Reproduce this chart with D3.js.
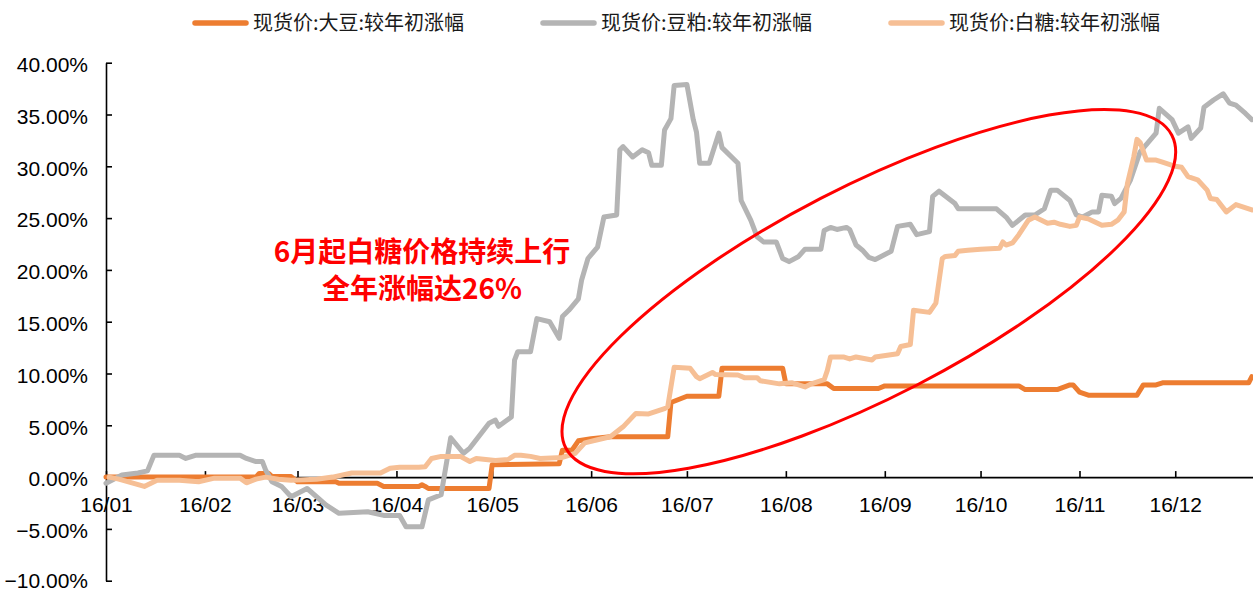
<!DOCTYPE html>
<html>
<head>
<meta charset="utf-8">
<script src="https://cdn.jsdelivr.net/npm/d3@7"></script>
<style>
  html, body { margin: 0; padding: 0; background: #fff; }
  svg { display: block; }
</style>
</head>
<body>
<svg id="chart" width="1253" height="591"></svg>
<script>
// ---- data (2016, % change since start of year) ----
const seriesNames = ["现货价:大豆:较年初涨幅", "现货价:豆粕:较年初涨幅", "现货价:白糖:较年初涨幅"];
const seriesColors = ["#ED7D31", "#B4B4B4", "#F6BF95"];

const soybean = [
  ["01/01", 0.0], ["02/17", 0.0], ["02/18", 0.35], ["02/21", 0.35], ["02/22", 0.05],
  ["02/28", 0.05], ["03/01", -0.45], ["03/13", -0.45], ["03/14", -0.6], ["03/26", -0.6],
  ["03/28", -0.9], ["04/08", -0.9], ["04/09", -0.75], ["04/10", -0.9], ["04/11", -1.1],
  ["04/30", -1.1], ["05/01", 1.2], ["05/22", 1.3], ["05/23", 2.6], ["05/26", 2.6],
  ["05/28", 3.5], ["06/01", 3.7], ["06/07", 3.9], ["06/25", 3.9], ["06/26", 7.2],
  ["07/01", 7.8], ["07/11", 7.8], ["07/12", 10.5], ["07/31", 10.5], ["08/01", 9.0],
  ["08/14", 9.0], ["08/16", 8.55], ["08/30", 8.55], ["09/01", 8.8], ["10/13", 8.8],
  ["10/15", 8.45], ["10/25", 8.45], ["10/29", 8.9], ["10/30", 8.9], ["11/01", 8.2],
  ["11/04", 7.9], ["11/19", 7.9], ["11/21", 8.9], ["11/25", 8.9], ["11/27", 9.1],
  ["12/24", 9.1], ["12/25", 9.7]
];

const soymeal = [
  ["01/01", -0.6], ["01/06", 0.2], ["01/11", 0.4], ["01/14", 0.6], ["01/16", 2.1],
  ["01/24", 2.1], ["01/26", 1.8], ["01/29", 2.1], ["02/12", 2.1], ["02/14", 1.8],
  ["02/17", 1.5], ["02/19", 1.5], ["02/20", 0.7], ["02/22", -0.45], ["02/25", -0.9],
  ["02/28", -1.9], ["03/04", -1.1], ["03/10", -2.7], ["03/14", -3.5], ["03/23", -3.35],
  ["03/28", -3.7], ["04/02", -3.7], ["04/04", -4.8], ["04/09", -4.8], ["04/11", -2.2],
  ["04/15", -1.7], ["04/18", 3.8], ["04/22", 2.3], ["04/24", 2.8], ["04/30", 5.2],
  ["05/02", 5.5], ["05/03", 4.9], ["05/07", 5.8], ["05/08", 11.3], ["05/09", 12.1],
  ["05/13", 12.1], ["05/15", 15.3], ["05/19", 15.0], ["05/22", 13.4], ["05/23", 15.5],
  ["05/25", 16.1], ["05/28", 17.2], ["05/29", 19.0], ["05/31", 21.1], ["06/03", 22.2],
  ["06/05", 25.1], ["06/09", 25.3], ["06/10", 31.6], ["06/11", 31.9], ["06/14", 30.9],
  ["06/17", 31.6], ["06/19", 31.3], ["06/20", 30.1], ["06/23", 30.1], ["06/24", 33.5],
  ["06/26", 34.6], ["06/27", 37.8], ["07/01", 37.9], ["07/03", 34.5], ["07/04", 33.3],
  ["07/05", 30.3], ["07/08", 30.3], ["07/11", 33.2], ["07/12", 31.8], ["07/17", 30.3],
  ["07/18", 26.7], ["07/21", 24.8], ["07/23", 23.2], ["07/25", 22.7], ["07/29", 22.7],
  ["07/31", 21.1], ["08/02", 20.8], ["08/05", 21.3], ["08/07", 22.0], ["08/12", 22.0],
  ["08/13", 23.8], ["08/15", 24.1], ["08/17", 23.9], ["08/20", 24.1], ["08/21", 23.9],
  ["08/23", 22.4], ["08/25", 21.9], ["08/27", 21.2], ["08/29", 21.0], ["09/03", 21.8],
  ["09/05", 24.2], ["09/09", 24.4], ["09/11", 23.4], ["09/15", 23.7], ["09/16", 27.1],
  ["09/18", 27.6], ["09/23", 26.4], ["09/24", 25.9], ["10/06", 25.9], ["10/09", 25.1],
  ["10/11", 24.3], ["10/15", 25.3], ["10/18", 25.3], ["10/21", 25.9], ["10/23", 27.7],
  ["10/25", 27.7], ["10/29", 26.7], ["10/31", 25.3], ["11/02", 25.1], ["11/05", 25.6],
  ["11/07", 25.6], ["11/08", 27.2], ["11/11", 27.1], ["11/12", 26.4], ["11/14", 26.9],
  ["11/17", 28.7], ["11/20", 31.4], ["11/25", 33.2], ["11/26", 35.6], ["11/30", 34.5],
  ["12/02", 33.2], ["12/05", 33.8], ["12/06", 32.7], ["12/09", 33.7], ["12/10", 35.7],
  ["12/13", 36.4], ["12/16", 37.0], ["12/18", 36.1], ["12/20", 35.9], ["12/23", 35.1],
  ["12/25", 34.5]
];

const sugar = [
  ["01/02", 0.0], ["01/05", -0.2], ["01/13", -0.9], ["01/17", -0.3], ["01/24", -0.3],
  ["01/30", -0.45], ["02/04", -0.1], ["02/12", -0.1], ["02/14", -0.55], ["02/17", -0.2],
  ["02/20", 0.0], ["02/24", -0.2], ["02/28", -0.3], ["03/07", -0.2], ["03/12", 0.0],
  ["03/18", 0.4], ["03/27", 0.4], ["03/30", 0.85], ["04/02", 0.95], ["04/08", 0.95],
  ["04/10", 1.0], ["04/12", 1.8], ["04/15", 2.0], ["04/21", 2.0], ["04/24", 1.5],
  ["04/26", 1.8], ["05/02", 1.6], ["05/06", 1.7], ["05/08", 2.1], ["05/10", 2.1],
  ["05/13", 2.0], ["05/16", 1.8], ["05/23", 1.9], ["05/27", 2.3], ["05/30", 3.3],
  ["06/03", 3.6], ["06/07", 3.9], ["06/11", 4.85], ["06/13", 5.5], ["06/15", 6.15],
  ["06/19", 6.1], ["06/24", 6.6], ["06/25", 6.8], ["06/27", 10.6], ["07/02", 10.5],
  ["07/04", 9.7], ["07/05", 9.5], ["07/09", 10.1], ["07/10", 9.9], ["07/17", 9.85],
  ["07/19", 9.6], ["07/23", 9.6], ["07/24", 9.3], ["07/30", 9.0], ["08/03", 9.1],
  ["08/05", 8.9], ["08/07", 8.7], ["08/09", 9.0], ["08/13", 9.4], ["08/14", 10.3],
  ["08/15", 11.6], ["08/19", 11.6], ["08/21", 11.4], ["08/23", 11.6], ["08/28", 11.3],
  ["08/29", 11.6], ["09/05", 11.9], ["09/06", 12.6], ["09/09", 12.8], ["09/10", 16.1],
  ["09/15", 15.9], ["09/17", 16.8], ["09/19", 21.1], ["09/20", 21.3], ["09/23", 21.4],
  ["09/24", 21.8], ["09/27", 21.9], ["10/01", 22.0], ["10/07", 22.1], ["10/08", 22.7],
  ["10/09", 22.4], ["10/11", 22.6], ["10/13", 23.4], ["10/16", 24.8], ["10/18", 25.1],
  ["10/22", 24.5], ["10/24", 24.6], ["10/26", 24.4], ["10/29", 24.2], ["10/31", 24.3],
  ["11/01", 25.1], ["11/04", 24.9], ["11/08", 24.3], ["11/11", 24.4], ["11/13", 24.8],
  ["11/15", 25.6], ["11/16", 28.3], ["11/18", 30.9], ["11/19", 32.6], ["11/20", 32.3],
  ["11/22", 30.6], ["11/25", 30.6], ["11/27", 30.4], ["12/01", 30.0], ["12/03", 29.9],
  ["12/05", 29.0], ["12/08", 28.7], ["12/11", 27.7], ["12/12", 26.9], ["12/14", 26.8],
  ["12/17", 25.6], ["12/20", 26.3], ["12/25", 25.8]
];

const yTicks = [-10, -5, 0, 5, 10, 15, 20, 25, 30, 35, 40];
const monthTicks = ["01/01", "02/01", "03/01", "04/01", "05/01", "06/01",
                    "07/01", "08/01", "09/01", "10/01", "11/01", "12/01"];
const noteLines = ["6月起白糖价格持续上行", "全年涨幅达26%"];

// ---- setup ----
const parseDay = s => d3.timeParse("%Y/%m/%d")("2016/" + s);
const fmtMonth = d3.timeFormat("%y/%m");
const fmtPct = d => d3.format(".2f")(d) + "%";

const svg = d3.select("#chart");
const latin = "'Liberation Sans', Arial, sans-serif";
const cjk = "'Noto Sans CJK SC', 'Microsoft YaHei', sans-serif";

const x = d3.scaleTime()
  .domain([parseDay("01/01"), parseDay("12/31")])
  .range([106, 1271]);
const y = d3.scaleLinear().domain([-10, 40]).range([580.7, 62.7]);

// ---- axes ----
const yAxis = d3.axisLeft(y)
  .tickValues(yTicks)
  .tickFormat(fmtPct)
  .tickSizeInner(-6)
  .tickSizeOuter(0)
  .tickPadding(18);

const yG = svg.append("g").attr("transform", "translate(106,0)").call(yAxis);
// lowest label sits a touch higher so it stays inside the frame
yG.selectAll("text").attr("dy", d => d === yTicks[0] ? "0.3em" : "0.42em");

const xAxis = d3.axisBottom(x)
  .tickValues(monthTicks.map(parseDay))
  .tickFormat(fmtMonth)
  .tickSizeInner(-6)
  .tickSizeOuter(0)
  .tickPadding(20);

const xG = svg.append("g").attr("transform", `translate(0,${y(0)})`).call(xAxis);

[yG, xG].forEach(g => {
  g.select(".domain").attr("stroke", "#000").attr("stroke-width", 1.6);
  g.selectAll(".tick line").attr("stroke", "#000").attr("stroke-width", 1.6);
  g.selectAll("text")
    .attr("fill", "#000")
    .style("font-family", latin)
    .style("font-size", "21px");
});

// ---- series lines ----
const line = d3.line()
  .x(d => x(parseDay(d[0])))
  .y(d => y(d[1]));

[soybean, soymeal, sugar].forEach((data, i) => {
  svg.append("path")
    .datum(data)
    .attr("fill", "none")
    .attr("stroke", seriesColors[i])
    .attr("stroke-width", 5)
    .attr("stroke-linejoin", "round")
    .attr("stroke-linecap", "round")
    .attr("d", line);
});

// ---- legend ----
const legend = svg.append("g").attr("transform", "translate(193,23)");
seriesNames.forEach((name, i) => {
  const g = legend.append("g").attr("transform", `translate(${i * 348},0)`);
  g.append("line")
    .attr("x1", 2).attr("x2", 53).attr("y1", 0).attr("y2", 0)
    .attr("stroke", seriesColors[i])
    .attr("stroke-width", 5.5)
    .attr("stroke-linecap", "round");
  g.append("text")
    .attr("x", 60).attr("y", 0).attr("dy", "0.36em")
    .attr("fill", "#1a1a1a")
    .style("font-family", cjk)
    .style("font-size", "20px")
    .text(name);
});

// ---- annotation: highlighted region and note ----
const cx = x(parseDay("08/27")), cy = y(17.9);
svg.append("ellipse")
  .attr("cx", 0).attr("cy", 0)
  .attr("rx", 341).attr("ry", 105)
  .attr("transform", `translate(${cx},${cy}) rotate(-27.3)`)
  .attr("fill", "none")
  .attr("stroke", "#FF0000")
  .attr("stroke-width", 3);

const note = svg.append("text")
  .attr("text-anchor", "middle")
  .attr("fill", "#FF0000")
  .style("font-family", cjk)
  .style("font-weight", 700)
  .style("font-size", "28px");
noteLines.forEach((t, i) => {
  note.append("tspan")
    .attr("x", x(parseDay("04/09")))
    .attr("y", y(21.7) + i * 37)
    .attr("dy", "0.36em")
    .text(t);
});
</script>
</body>
</html>
